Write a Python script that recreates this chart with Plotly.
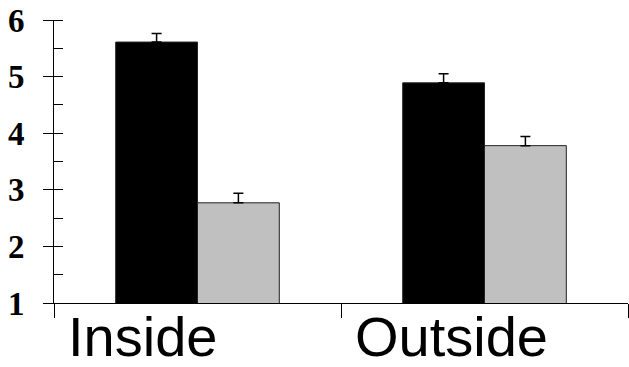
import plotly.graph_objects as go

categories = ["Inside", "Outside"]
series_a = [5.61, 4.89]
series_a_err = [0.15, 0.16]
series_b = [2.77, 3.78]
series_b_err = [0.17, 0.16]

fig = go.Figure()
fig.add_trace(go.Bar(
    x=categories, y=series_a, base=0,
    marker=dict(color="#000000", line=dict(color="#222222", width=1)),
    error_y=dict(type="data", array=series_a_err, arrayminus=[0] * len(series_a_err),
                 symmetric=False, color="#000000", thickness=1.5, width=5),
))
fig.add_trace(go.Bar(
    x=categories, y=series_b, base=0,
    marker=dict(color="#c0c0c0", line=dict(color="#222222", width=1)),
    error_y=dict(type="data", array=series_b_err, arrayminus=[0] * len(series_b_err),
                 symmetric=False, color="#000000", thickness=1.5, width=5),
))

for i, c in enumerate(categories):
    fig.add_annotation(
        x=i - 0.5, xref="x", y=0, yref="paper", yanchor="top", xanchor="left",
        text=c, showarrow=False, xshift=12, yshift=0,
        font=dict(family="Liberation Sans, Arial", size=56, color="#000000"),
    )

fig.update_layout(
    width=629, height=367,
    margin=dict(l=54, r=1, t=20, b=64, autoexpand=False),
    paper_bgcolor="white", plot_bgcolor="white",
    barmode="group", bargap=0.43, bargroupgap=0,
    showlegend=False,
    xaxis=dict(
        type="category", range=[-0.5, 1.5], showline=True, linecolor="black", linewidth=1,
        ticks="outside", tickson="boundaries", ticklen=14, tickcolor="black", tickwidth=1,
        showticklabels=False, showgrid=False, zeroline=False, automargin=False,
    ),
    yaxis=dict(
        range=[1, 6], dtick=1, tick0=1, showline=True, linecolor="black", linewidth=1,
        ticks="outside", ticklen=10, tickcolor="black", tickwidth=1,
        minor=dict(dtick=0.5, tick0=1, ticks="inside", ticklen=9, tickcolor="black", tickwidth=1, showgrid=False),
        showgrid=False, zeroline=False, automargin=False,
        tickfont=dict(family="Liberation Serif", size=33, color="black", weight="bold"),
        ticklabelstandoff=12,
    ),
)

fig.write_html("out.html", config={"displayModeBar": False},
               post_script="document.body.style.margin='0';document.body.style.overflow='hidden';")
